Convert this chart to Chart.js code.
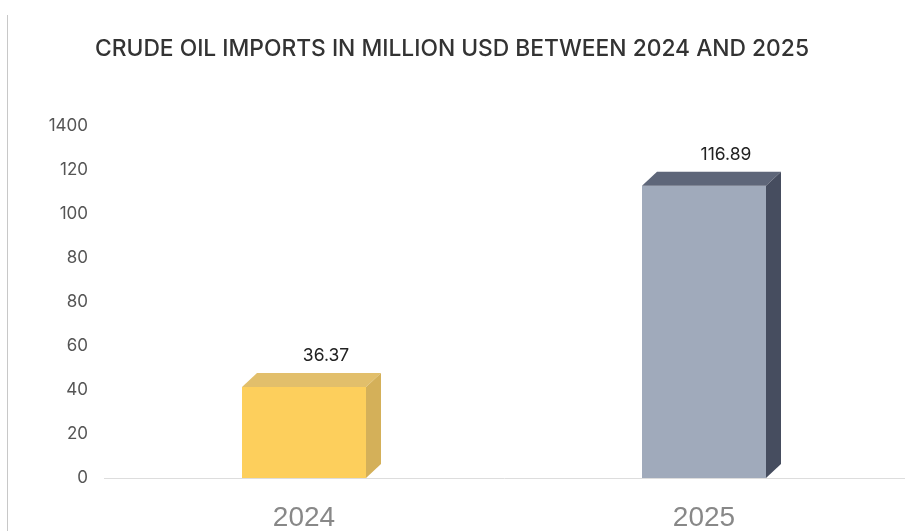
<!DOCTYPE html>
<html>
<head>
<meta charset="utf-8">
<script src="https://cdn.jsdelivr.net/npm/chart.js@4.4.0/dist/chart.umd.min.js"></script>
<style>
  html, body { margin: 0; padding: 0; background: #fff; }
  #wrap { position: relative; width: 916px; height: 531px; }
  #edge { position: absolute; left: 7px; top: 15px; bottom: 0; border-left: 1px solid #c8c8c8; }
</style>
</head>
<body>
<div id="wrap">
  <div id="edge"></div>
  <canvas id="chart" width="916" height="531"></canvas>
</div>
<script>
const years = ['2024', '2025'];
const imports = [36.37, 116.89];
const frontColors = ['#fdcf5c', '#a0aabb'];
const topColors = ['#e2bf6b', '#5e6679'];
const sideColors = ['#d4b059', '#464d5f'];
// tick labels as printed on the original (including its typos)
const tickLabels = ['0', '20', '40', '60', '80', '80', '100', '120', '1400'];
const yMax = 140.6;

const depthX = 15;
const depthY = 14;

const box3d = {
    id: 'box3d',
    afterDatasetsDraw(chart) {
        const ctx = chart.ctx;
        const meta = chart.getDatasetMeta(0);
        meta.data.forEach((bar, i) => {
            const left = bar.x - bar.width / 2;
            const right = bar.x + bar.width / 2;
            ctx.save();
            // top face
            ctx.fillStyle = topColors[i];
            ctx.beginPath();
            ctx.moveTo(left, bar.y);
            ctx.lineTo(left + depthX, bar.y - depthY);
            ctx.lineTo(right + depthX, bar.y - depthY);
            ctx.lineTo(right, bar.y);
            ctx.closePath();
            ctx.fill();
            // side face
            ctx.fillStyle = sideColors[i];
            ctx.beginPath();
            ctx.moveTo(right, bar.y);
            ctx.lineTo(right + depthX, bar.y - depthY);
            ctx.lineTo(right + depthX, bar.base - depthY);
            ctx.lineTo(right, bar.base);
            ctx.closePath();
            ctx.fill();
            // value label
            ctx.fillStyle = '#222';
            ctx.font = '17.5px Inter, "Liberation Sans", sans-serif';
            ctx.textAlign = 'center';
            ctx.textBaseline = 'middle';
            ctx.fillText(imports[i].toFixed(2), bar.x + 22, bar.y - 31);
            ctx.restore();
        });
    }
};

new Chart(document.getElementById('chart'), {
    type: 'bar',
    data: {
        labels: years,
        datasets: [{
            data: imports,
            backgroundColor: frontColors,
            borderWidth: 0,
            barPercentage: 0.31,
            categoryPercentage: 1
        }]
    },
    options: {
        responsive: false,
        animation: false,
        layout: {
            padding: { left: 0, right: 12, top: 0, bottom: 0 }
        },
        plugins: {
            legend: { display: false },
            tooltip: { enabled: false },
            title: {
                display: true,
                text: 'CRUDE OIL IMPORTS IN MILLION USD BETWEEN 2024 AND 2025',
                color: '#333',
                font: { family: 'Inter, "Open Sans", sans-serif', size: 22.8, weight: '500' },
                padding: { top: 35, bottom: 64 }
            }
        },
        scales: {
            x: {
                grid: { display: false },
                border: { color: '#dddddd', width: 1 },
                ticks: {
                    color: '#888',
                    padding: 15,
                    font: { family: '"Liberation Sans", Arial, sans-serif', size: 28 }
                },
                afterFit(scale) { scale.height = 53; }
            },
            y: {
                min: 0,
                max: yMax,
                grid: { display: false, drawTicks: false },
                border: { display: false },
                afterBuildTicks(scale) {
                    scale.ticks = tickLabels.map((t, i) => ({ value: yMax * i / (tickLabels.length - 1) }));
                },
                ticks: {
                    color: '#555',
                    padding: 16,
                    font: { family: 'Inter, "Open Sans", sans-serif', size: 17 },
                    callback: (value, index) => tickLabels[index]
                },
                afterFit(scale) { scale.width = 104; }
            }
        }
    },
    plugins: [box3d]
});
</script>
</body>
</html>
